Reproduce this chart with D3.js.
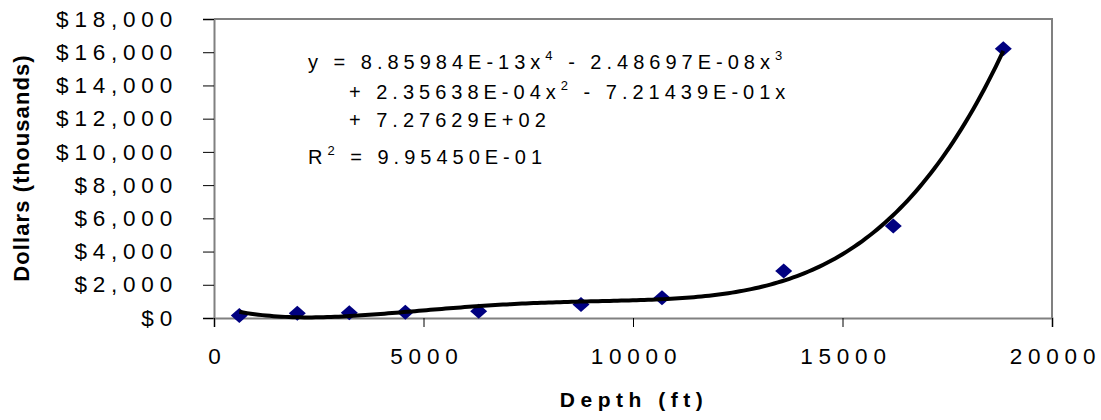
<!DOCTYPE html>
<html>
<head>
<meta charset="utf-8">
<script src="https://cdn.jsdelivr.net/npm/d3@7"></script>
<style>
  body { margin: 0; background: #fff; }
  text { font-family: "Liberation Sans", Arial, sans-serif; fill: #000; }
</style>
</head>
<body>
<svg id="chart" width="1101" height="420"></svg>
<script>
// ---- data ----
const depth = [604, 1988, 3229, 4566, 6317, 8759, 10692, 13597, 16212, 18838];
const cost  = [150, 290, 313, 350, 410, 815, 1218, 2823, 5537, 16210];
const trendCoefficients = [8.85984e-13, -2.48697e-08, 2.35638e-04, -7.21439e-01, 7.27629e+02]; // x^4 .. x^0
const yTicks = [0, 2000, 4000, 6000, 8000, 10000, 12000, 14000, 16000, 18000];
const xTicks = [0, 5000, 10000, 15000, 20000];
const equationLines = [
  {parts: [["y = 8.85984E-13x", ""], ["4", "sup"], [" - 2.48697E-08x", ""], ["3", "sup"]], indent: false},
  {parts: [["+ 2.35638E-04x", ""], ["2", "sup"], [" - 7.21439E-01x", ""]], indent: true},
  {parts: [["+ 7.27629E+02", ""]], indent: true},
  {parts: [["R", ""], ["2", "sup"], [" = 9.95450E-01", ""]], indent: false}
];
const xTitle = "Depth (ft)";
const yTitle = "Dollars (thousands)";

// ---- layout ----
const svg = d3.select("#chart");
const pLeft = 214, pRight = 1052, pTop = 19, pBottom = 318;
const tickFont = 22.5, tickSpacing = 5.8;

const x = d3.scaleLinear().domain([0, 20000]).range([pLeft, pRight]);
const y = d3.scaleLinear().domain([0, 18000]).range([pBottom, pTop]);

// plot frame (top & right)
svg.append("path")
  .attr("d", `M${pLeft},${pTop}H${pRight}V${pBottom}`)
  .attr("fill", "none").attr("stroke", "#808080").attr("stroke-width", 2);

// y axis
const yAxis = svg.append("g").attr("transform", `translate(${pLeft},0)`)
  .call(d3.axisLeft(y).tickValues(yTicks).tickSize(11).tickPadding(25)
        .tickFormat(d => "$" + d3.format(",")(d)));
yAxis.select(".domain").attr("stroke", "#808080").attr("stroke-width", 2);
yAxis.selectAll(".tick line").attr("stroke", "#000").attr("stroke-width", 1);
yAxis.selectAll(".tick text")
  .attr("font-size", tickFont).attr("font-family", "Liberation Sans, Arial, sans-serif")
  .style("letter-spacing", tickSpacing + "px").attr("fill", "#000");

// x axis
const xAxis = svg.append("g").attr("transform", `translate(0,${pBottom})`)
  .call(d3.axisBottom(x).tickValues(xTicks).tickSize(9).tickPadding(21)
        .tickFormat(d => String(d)));
xAxis.select(".domain").attr("stroke", "#808080").attr("stroke-width", 2);
xAxis.selectAll(".tick line").attr("stroke", "#000").attr("stroke-width", 1);
xAxis.selectAll(".tick text")
  .attr("font-size", tickFont).attr("font-family", "Liberation Sans, Arial, sans-serif")
  .style("letter-spacing", tickSpacing + "px").attr("fill", "#000")
  .attr("dx", (tickSpacing / 2) + "px");

// trendline (from displayed polynomial coefficients)
const poly = v => trendCoefficients.reduce((acc, c) => acc * v + c, 0);
const xMin = d3.min(depth), xMax = d3.max(depth);
const trend = d3.range(0, 201).map(i => {
  const xv = xMin + (xMax - xMin) * i / 200;
  return [xv, poly(xv)];
});

// points
const diamond = (cx, cy) => `M${cx},${cy - 7.5}L${cx + 8.5},${cy}L${cx},${cy + 7.5}L${cx - 8.5},${cy}Z`;
svg.append("g").selectAll("path").data(depth.map((d, i) => [d, cost[i]]))
  .join("path")
  .attr("d", d => diamond(x(d[0]), y(d[1])))
  .attr("fill", "#000080");

svg.append("path").datum(trend)
  .attr("d", d3.line().x(d => x(d[0])).y(d => y(d[1])).curve(d3.curveLinear))
  .attr("fill", "none").attr("stroke", "#000").attr("stroke-width", 4)
  .attr("stroke-linejoin", "round");

// equation text
const eqBaselines = [69, 99, 127, 164];
const eq = svg.append("g");
equationLines.forEach((ln, i) => {
  const t = eq.append("text")
    .attr("x", ln.indent ? 349 : 308).attr("y", eqBaselines[i])
    .attr("font-size", 20).style("letter-spacing", "5px");
  let prevSup = false;
  ln.parts.forEach(p => {
    const ts = t.append("tspan").text(p[0]);
    if (p[1] === "sup") {
      ts.attr("font-size", 13).attr("dy", -9);
      prevSup = true;
    } else {
      if (prevSup) ts.attr("dy", 9);
      prevSup = false;
    }
  });
});

// axis titles
svg.append("text")
  .attr("x", 634).attr("y", 407).attr("text-anchor", "middle")
  .attr("font-size", 21).attr("font-weight", "bold").style("letter-spacing", "5.5px")
  .text(xTitle);

svg.append("text")
  .attr("transform", "translate(29,168) rotate(-90)").attr("text-anchor", "middle")
  .attr("font-size", 22).attr("font-weight", "bold").style("letter-spacing", "1.1px")
  .text(yTitle);
</script>
</body>
</html>
